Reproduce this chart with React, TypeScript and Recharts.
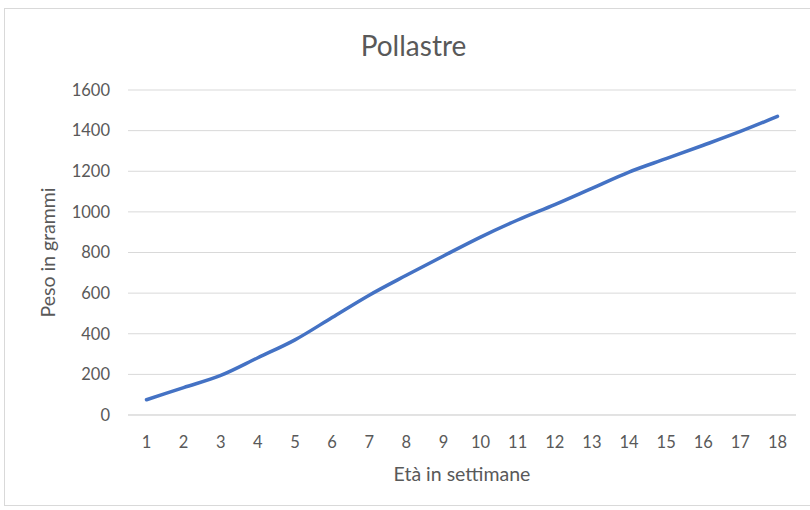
import { LineChart, Line, XAxis, YAxis, CartesianGrid } from 'recharts';

// Età in settimane
const weeks = [1, 2, 3, 4, 5, 6, 7, 8, 9, 10, 11, 12, 13, 14, 15, 16, 17, 18];
// Peso in grammi
const weights = [75, 135, 195, 282, 370, 480, 590, 688, 783, 876, 960, 1036, 1116, 1196, 1262, 1328, 1396, 1470];
const yTicks = [0, 200, 400, 600, 800, 1000, 1200, 1400, 1600];

const data = weeks.map((w, i) => ({ week: String(w), peso: weights[i] }));

const font = 'Lato, Calibri, "Open Sans", sans-serif';
const textColor = '#595959';

export default function App() {
  return (
    <div style={{ position: 'absolute', left: 0, top: 0, width: 810, height: 510, background: '#fff', fontFamily: font }}>
      {/* chart frame */}
      <div style={{
        position: 'absolute', left: 4, top: 8, width: 830, height: 498,
        border: '1px solid #d9d9d9', boxSizing: 'border-box',
      }} />
      <div style={{
        position: 'absolute', left: 0, width: 827, top: 27, textAlign: 'center',
        fontSize: 28, color: textColor, lineHeight: '36px',
      }}>
        Pollastre
      </div>
      <div style={{ position: 'absolute', left: 0, top: 0 }}>
        <LineChart width={810} height={510} data={data} margin={{ top: 90, right: 14, bottom: 30, left: 60 }}>
          <CartesianGrid vertical={false} stroke="#d9d9d9" strokeWidth={1} />
          <XAxis
            dataKey="week"
            padding={{ left: 18.5, right: 18.5 }}
            axisLine={{ stroke: '#d9d9d9' }}
            tickLine={false}
            tickSize={0}
            tickMargin={21}
            height={65}
            interval={0}
            tick={{ fill: textColor, fontSize: 16.5, fontFamily: font }}
            label={{ value: 'Età in settimane', position: 'insideBottom', offset: -1, fill: textColor, fontSize: 19.5, fontFamily: font }}
          />
          <YAxis
            domain={[0, 1600]}
            ticks={yTicks}
            interval={0}
            axisLine={false}
            tickLine={false}
            tickSize={0}
            tickMargin={18}
            width={68}
            tick={{ fill: textColor, fontSize: 16.5, fontFamily: font }}
            label={{ value: 'Peso in grammi', angle: -90, position: 'left', offset: 12, fill: textColor, fontSize: 19.5, fontFamily: font, style: { textAnchor: 'middle' } }}
          />
          <Line
            dataKey="peso"
            type="monotone"
            stroke="#4472c4"
            strokeWidth={3.5}
            strokeLinecap="round"
            dot={false}
            activeDot={false}
            isAnimationActive={false}
          />
        </LineChart>
      </div>
    </div>
  );
}
